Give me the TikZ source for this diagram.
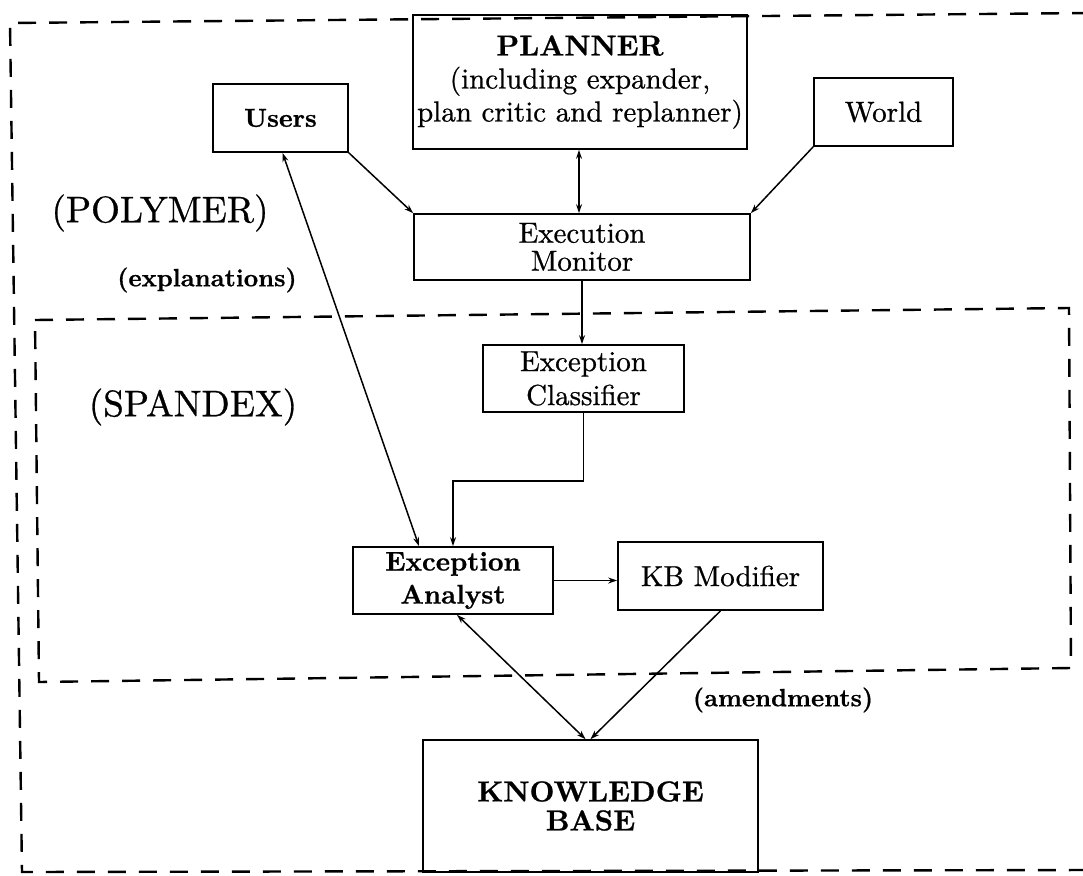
\documentclass[tikz,border=0pt]{standalone}
\usepackage{fontspec}
\setmainfont{lmroman10-regular.otf}[
  BoldFont=lmroman10-bold.otf,
  UprightFeatures={RawFeature={embolden=0.7}},
  BoldFeatures={RawFeature={embolden=0.7}}]
\usetikzlibrary{arrows.meta,calc}
\begin{document}
\begin{tikzpicture}[x=1pt,y=-1pt,
  box/.style={draw, line width=1.7pt, rectangle, inner sep=0pt, align=center},
  txt/.style={font=\fontsize{29}{33}\selectfont},
  conn/.style={line width=1.5pt, -{Stealth[length=9pt,width=6pt]}},
  biconn/.style={line width=1.5pt, {Stealth[length=9pt,width=6pt]}-{Stealth[length=9pt,width=6pt]}},
  region/.style={line width=2.4pt, dash pattern=on 18pt off 13pt},
  tag/.style={inner sep=0pt, font=\fontsize{37}{40}\selectfont},
  btag/.style={inner sep=0pt, font=\fontsize{25}{28}\selectfont\bfseries}]
\useasboundingbox (0,0) rectangle (1083,875);

% regions
\draw[region] (1090,13) -- (10,23) -- (22,872) -- (1090,870);
\draw[region] (35,320) -- (1069,308) -- (1071,668) -- (39,682) -- cycle;

% components
\node[box, minimum width=334pt, minimum height=134pt, txt] (planner) at (580,82)
  {\textbf{PLANNER}\\(including expander,\\plan critic and replanner)};
\node[box, minimum width=135pt, minimum height=68pt, font=\fontsize{26}{30}\selectfont\bfseries] (users) at (280.5,118) {Users};
\node[box, minimum width=139pt, minimum height=68pt, txt] (world) at (883.5,112) {World};
\node[box, minimum width=336pt, minimum height=66pt, font=\fontsize{29}{28}\selectfont] (monitor) at (582,247) {Execution\\Monitor};
\node[box, minimum width=201pt, minimum height=67pt, font=\fontsize{29}{34}\selectfont] (classifier) at (583.5,378.5) {Exception\\Classifier};
\node[box, minimum width=200pt, minimum height=67pt, font=\fontsize{27}{33}\selectfont\bfseries] (analyst) at (453,580.5) {Exception\\Analyst};
\node[box, minimum width=205pt, minimum height=68pt, txt] (kbm) at (720.5,576) {KB Modifier};
\node[box, minimum width=335pt, minimum height=132pt, font=\fontsize{29}{29}\selectfont\bfseries] (kb) at (590.5,806) {KNOWLEDGE\\BASE};

% region and flow labels
\node[tag] (polymer) at (160,213) {(POLYMER)};
\node[tag] (spandex) at (193,407) {(SPANDEX)};
\node[btag] (expl) at (207,280) {(explanations)};
\node[btag] (amend) at (783,700) {(amendments)};

% connectors
\draw[biconn] ([xshift=2pt]users.south) -- ([xshift=-34pt]analyst.north);
\draw[conn] (users.south east) -- (monitor.north west);
\draw[biconn] ([xshift=-1pt]planner.south) -- ([xshift=-1pt]planner.south |- monitor.north);
\draw[conn] (world.south west) -- (monitor.north east);
\draw[conn] (monitor.south) -- (monitor.south |- classifier.north);
\draw[conn] (classifier.south) -- ++(0,68) -| (analyst.north);
\draw[conn] (analyst.east) -- (analyst.east -| kbm.west);
\draw[biconn] ([xshift=4pt]analyst.south) -- ([xshift=-5pt]kb.north);
\draw[conn] (kbm.south) -- (kb.north);
\end{tikzpicture}
\end{document}
